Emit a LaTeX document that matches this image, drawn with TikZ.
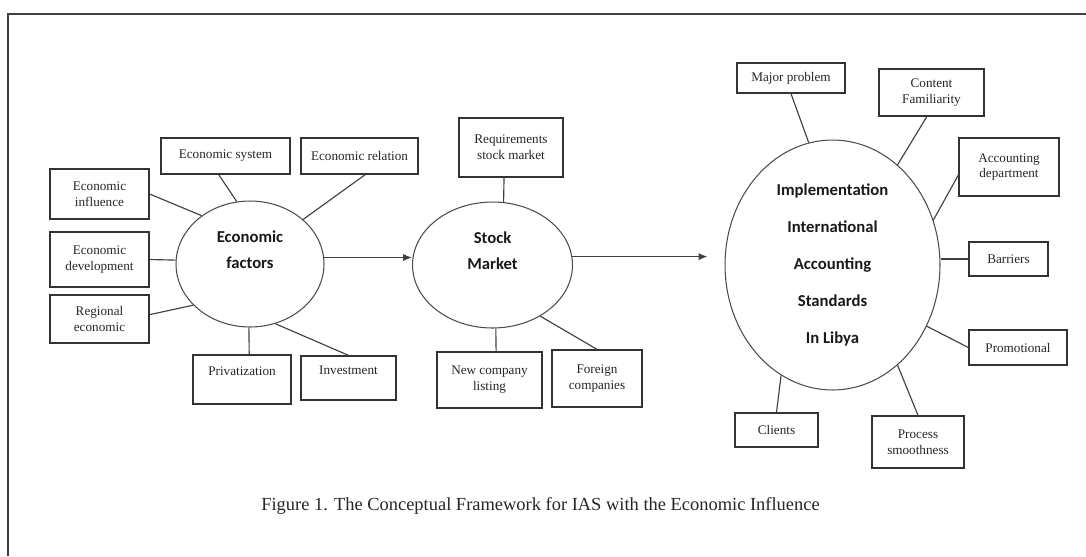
\documentclass[tikz,border=0pt]{standalone}
\usepackage{fontspec}
\setmainfont{Liberation Serif}
\newfontfamily\hubfont{Carlito}
\usetikzlibrary{arrows.meta,shapes.geometric,calc}

\begin{document}
\begin{tikzpicture}[
        x=0.02cm, y=-0.02cm,
        factor/.style={draw=black!80, line width=0.75pt, fill=white, align=center, inner sep=1pt, font=\fontsize{7.5}{9}\selectfont, text=black!85},
        hub/.style={ellipse, draw=black!70, line width=0.6pt, inner sep=0pt},
        hubtext/.style={align=center, font=\hubfont\bfseries\fontsize{9.5}{15}\selectfont, text=black!90},
        spoke/.style={draw=black!75, line width=0.65pt},
        flow/.style={spoke, -{Latex[length=5pt,width=4pt]}}
    ]
    \useasboundingbox (0,0) rectangle (1086,556);

    % outer frame (open at right and bottom)
    \draw[black!75, line width=1pt] (8,556) -- (8,14) -- (1086,14);

    % === Economic factors ===
    \node[hub, minimum width=2.96cm, minimum height=2.52cm] (econ) at (250,264) {};
    \node[hubtext] (econlbl) at ([yshift=0.28cm]econ.center) {Economic\\factors};

    \node[factor, minimum width=2.58cm, minimum height=0.72cm] (sys) at (225.5,156) {Economic system};
    \node[factor, minimum width=2.34cm, minimum height=0.72cm] (rel) at (359.5,156) {Economic relation};
    \node[factor, minimum width=1.98cm, minimum height=1.00cm] (infl) at (99.5,194) {Economic\\influence};
    \node[factor, minimum width=1.98cm, minimum height=1.10cm] (dev) at (99.5,259.5) {Economic\\development};
    \node[factor, minimum width=1.98cm, minimum height=0.96cm] (reg) at (99.5,319) {Regional\\economic};
    \node[factor, minimum width=1.96cm, minimum height=0.98cm] (priv) at (242,379.5) {Privatization\\\mbox{}};
    \node[factor, minimum width=1.90cm, minimum height=0.88cm] (inv) at (348.5,378) {Investment\\\mbox{}};

    \draw[spoke] (sys.250) -- (econ.102.7);
    \draw[spoke] (rel.287) -- (econ.40.4);
    \draw[spoke] (infl.east) -- (econ.135);
    \draw[spoke] (dev.east) -- (econ.177.7);
    \draw[spoke] (reg.5) -- (econ.216.4);
    \draw[spoke] (priv.74) -- (econ.269);
    \draw[spoke] (inv.north) -- (econ.293.4);

    % === Stock market ===
    \node[hub, minimum width=3.20cm, minimum height=2.52cm] (stock) at (492.5,265) {};
    \node[hubtext] (stocklbl) at ([yshift=0.29cm]stock.center) {Stock\\Market};

    \node[factor, minimum width=2.08cm, minimum height=1.18cm] (req) at (511,147.5) {Requirements\\stock market};
    \node[factor, minimum width=2.10cm, minimum height=1.12cm] (newc) at (489.5,380) {New company\\listing};
    \node[factor, minimum width=1.80cm, minimum height=1.14cm] (forc) at (597,378.5) {Foreign\\companies};

    \draw[spoke] (req.257) -- (stock.80);
    \draw[spoke] (newc.77) -- (stock.273);
    \draw[spoke] (forc.north) -- (stock.313.6);

    % === IAS implementation ===
    \node[hub, minimum width=4.30cm, minimum height=5.00cm] (ias) at (832.5,265) {};
    \node[hubtext, font=\hubfont\bfseries\fontsize{9.5}{21}\selectfont] (iaslbl) at (ias.center)
        {Implementation\\International\\Accounting\\Standards\\In Libya};

    \node[factor, minimum width=2.16cm, minimum height=0.60cm] (major) at (791,78) {Major problem};
    \node[factor, minimum width=2.10cm, minimum height=0.94cm] (cont) at (931.5,92.5) {Content\\Familiarity};
    \node[factor, minimum width=2.00cm, minimum height=1.16cm] (accd) at (1009,167) {Accounting\\department};
    \node[factor, minimum width=1.58cm, minimum height=0.68cm] (barr) at (1008.5,259) {Barriers};
    \node[factor, minimum width=1.96cm, minimum height=0.70cm] (promo) at (1018,347.5) {Promotional};
    \node[factor, minimum width=1.84cm, minimum height=1.04cm] (proc) at (918,442) {Process\\smoothness};
    \node[factor, minimum width=1.66cm, minimum height=0.68cm] (cli) at (776.5,430) {Clients};

    \draw[spoke] (major.south) -- (ias.101);
    \draw[spoke] (cont.259) -- (ias.57.2);
    \draw[spoke] (accd.189) -- (ias.24.1);
    \draw[spoke] (barr.west) -- (barr.west -| ias.east);
    \draw[spoke] (promo.west) -- (ias.327.2);
    \draw[spoke] (proc.north) -- (ias.303.2);
    \draw[spoke] (cli.north) -- (ias.245.4);

    % main flow
    \draw[flow] (econ.5) -- (econ.5 -| stock.west);
    \draw[flow, shorten >=0.34cm] (stock.6) -- (stock.6 -| ias.west);

    % caption
    \node[anchor=base, font=\fontsize{10.5}{12}\selectfont, text=black!85] (caption) at (540.5,510)
        {Figure 1. The Conceptual Framework for IAS with the Economic  Influence};

\end{tikzpicture}
\end{document}
